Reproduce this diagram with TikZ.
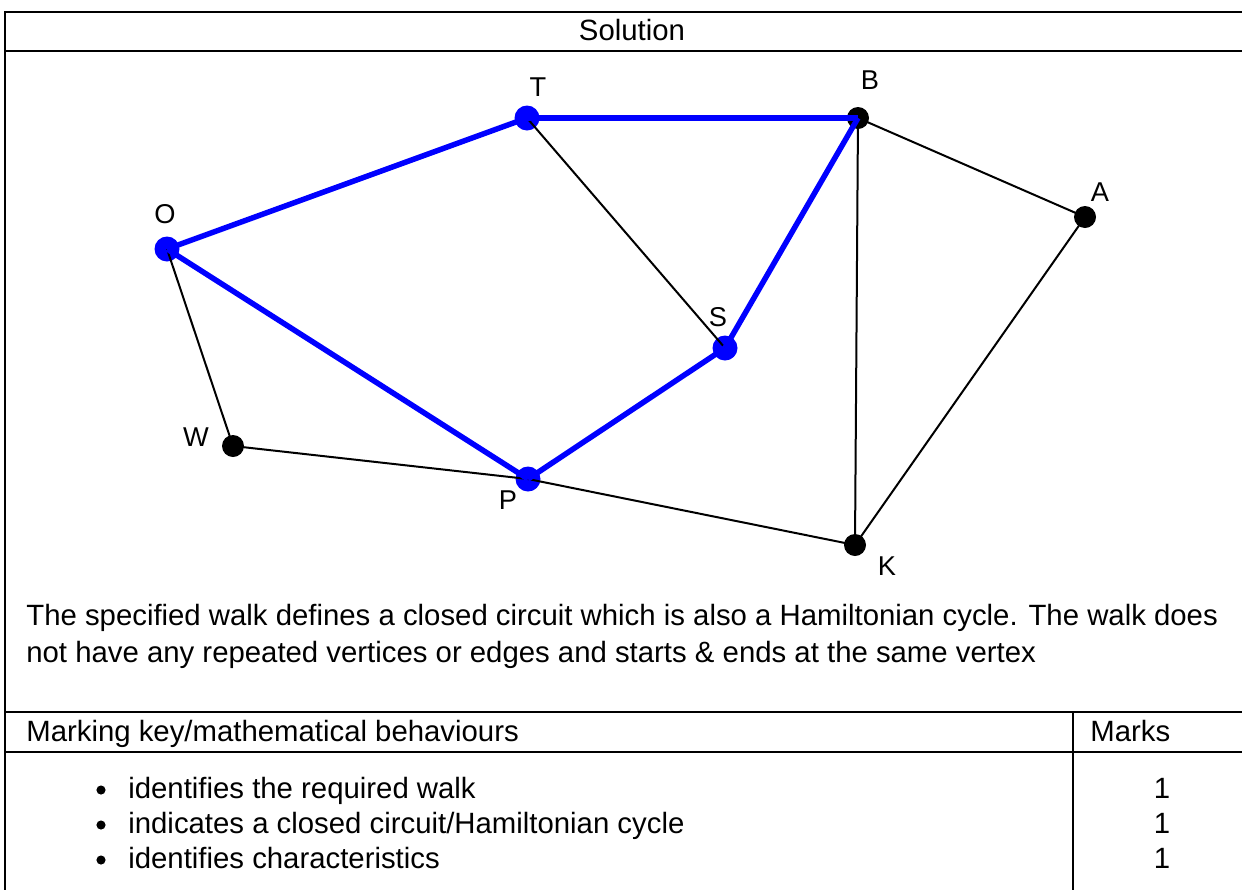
\documentclass[tikz,border=0pt]{standalone}
\usepackage{fontspec}
\setmainfont{Liberation Sans}
\usepackage{tikz}

\tikzset{
    vtx/.style={circle,fill=black,inner sep=0pt,minimum size=22\unitpx},
    hvtx/.style={circle,fill=blue,inner sep=0pt,minimum size=25\unitpx},
    walk/.style={blue,line width=5.5\unitpx},
    edge/.style={black,line width=2\unitpx},
    rule/.style={black,line width=2\unitpx},
    vlabel/.style={font=\fontsize{15.5}{18}\selectfont},
    body/.style={font=\fontsize{16.7}{21}\selectfont,inner sep=0pt}
}
\newcommand{\unitpx}{*0.5691pt}

\begin{document}
\begin{tikzpicture}[x=0.02cm,y=-0.02cm]
    \useasboundingbox (0,0) rectangle (1242,890);

    % Table frame
    \draw[rule] (1242,12) -- (5,12) -- (5,890);
    \draw[rule] (5,51) -- (1242,51);
    \draw[rule] (5,712) -- (1242,712);
    \draw[rule] (5,752) -- (1242,752);
    \draw[rule] (1073,712) -- (1073,890);

    \node[body,anchor=base] (title) at (632,40) {Solution};

    % Vertices
    \node[hvtx] (T) at (527,118) {};
    \node[vtx]  (B) at (858,118) {};
    \node[vtx]  (A) at (1085,217) {};
    \node[hvtx] (O) at (167,249) {};
    \node[hvtx] (S) at (725,348) {};
    \node[vtx]  (W) at (233,446) {};
    \node[hvtx] (P) at (528,479) {};
    \node[vtx]  (K) at (855,545) {};

    % Edges not on the walk
    \draw[edge] (T.center) -- (S.center);
    \draw[edge] (B.center) -- (A.center);
    \draw[edge] (B.center) -- (K.center);
    \draw[edge] (A.center) -- (K.center);
    \draw[edge] (O.center) -- (W.center);
    \draw[edge] (W.center) -- (P.center);
    \draw[edge] (P.center) -- (K.center);

    % The walk
    \draw[walk] (O.center) -- (T.center);
    \draw[walk] (T.center) -- (B.center);
    \draw[walk] (B.center) -- (S.center);
    \draw[walk] (S.center) -- (P.center);
    \draw[walk] (P.center) -- (O.center);

    % Vertex labels
    \node[vlabel] (lT) at (538,87) {T};
    \node[vlabel] (lB) at (870,80) {B};
    \node[vlabel] (lA) at (1100,192) {A};
    \node[vlabel] (lO) at (165,214) {O};
    \node[vlabel] (lS) at (718,317) {S};
    \node[vlabel] (lW) at (196,437) {W};
    \node[vlabel] (lP) at (508,500) {P};
    \node[vlabel] (lK) at (887,566) {K};

    % Comment
    \node[body,anchor=base west] (line1) at (26,625)
        {The specified walk defines a closed circuit which is also a Hamiltonian cycle. The walk does};
    \node[body,anchor=base west] (line2) at (26,662)
        {not have any repeated vertices or edges and starts \& ends at the same vertex};

    % Marking key
    \node[body,anchor=base west] (keyhead) at (26,741) {Marking key/mathematical behaviours};
    \node[body,anchor=base west] (markhead) at (1090,741) {Marks};

    \foreach \y/\txt [count=\i] in {798/{identifies the required walk},
        833/{indicates a closed circuit/Hamiltonian cycle},
        868/{identifies characteristics}} {
        \fill (101,\y-8) circle (2.6pt);
        \node[body,anchor=base west] (crit\i) at (128,\y) {\txt};
        \node[body,anchor=base] (mark\i) at (1162,\y) {1};
    }
\end{tikzpicture}
\end{document}
